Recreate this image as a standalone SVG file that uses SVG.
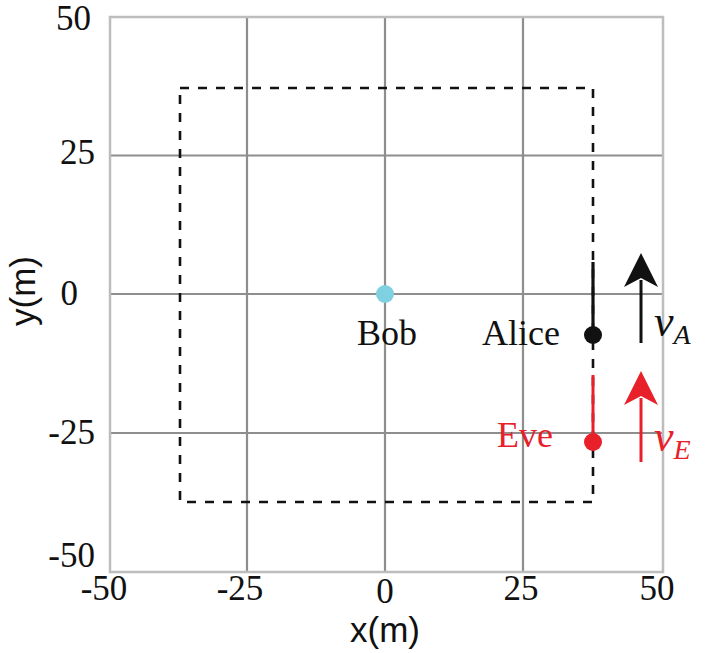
<svg xmlns="http://www.w3.org/2000/svg" width="705" height="653" viewBox="0 0 705 653">
<style>
.grid{stroke:#8e8e8e;stroke-width:2.2;fill:none}
.frame{stroke:#bdbdbd;stroke-width:2.5;fill:none}
.tick{font-family:"Liberation Serif",serif;font-size:35px;fill:#111}
.lab{font-family:"Liberation Serif",serif;font-size:36px}
.ax{font-family:"Liberation Sans",Arial,sans-serif;font-size:35px;fill:#111}
.dash{stroke:#111;stroke-width:2.6;fill:none;stroke-dasharray:9 9}
.math{font-family:"Liberation Serif",serif;font-style:italic}
</style>
<rect width="705" height="653" fill="#fff"/>
<g id="grid">
<line class="grid" x1="247" y1="17" x2="247" y2="572"/>
<line class="grid" x1="385" y1="17" x2="385" y2="572"/>
<line class="grid" x1="523" y1="17" x2="523" y2="572"/>
<line class="grid" x1="110" y1="155.5" x2="663" y2="155.5"/>
<line class="grid" x1="110" y1="294" x2="663" y2="294"/>
<line class="grid" x1="110" y1="433" x2="663" y2="433"/>
<rect class="frame" x="110" y="17" width="553" height="555"/>
</g>
<g id="ticks">
<text class="tick" x="91" y="30" font-size="33" text-anchor="end">50</text>
<text class="tick" x="95" y="164" text-anchor="end">25</text>
<text class="tick" x="78" y="305" text-anchor="end">0</text>
<text class="tick" x="95" y="444" text-anchor="end">-25</text>
<text class="tick" x="95" y="567" text-anchor="end">-50</text>
<text class="tick" x="104" y="600" text-anchor="middle">-50</text>
<text class="tick" x="240" y="600" text-anchor="middle">-25</text>
<text class="tick" x="385" y="603" text-anchor="middle">0</text>
<text class="tick" x="521" y="600" text-anchor="middle">25</text>
<text class="tick" x="657" y="600" text-anchor="middle">50</text>
<text class="ax" x="385" y="642" text-anchor="middle">x(m)</text>
<text class="ax" transform="translate(35 291) rotate(-90)" text-anchor="middle">y(m)</text>
</g>
<g id="region">
<rect class="dash" x="180" y="88" width="413" height="414"/>
</g>
<g id="connectors">
<line x1="593" y1="262" x2="593" y2="335" stroke="#111" stroke-width="3.2"/>
<line x1="593" y1="375" x2="593" y2="442" stroke="#e8202a" stroke-width="3"/>
<line x1="641" y1="343" x2="641" y2="280" stroke="#111" stroke-width="3"/>
<polygon points="641,253 658,287 641,278 624,287" fill="#111"/>
<line x1="641" y1="462" x2="641" y2="398" stroke="#e8202a" stroke-width="3"/>
<polygon points="641,371 658,405 641,396 624,405" fill="#e8202a"/>
</g>
<g id="bob">
<circle cx="385" cy="294" r="9" fill="#7fd0e0"/>
<text class="lab" x="387" y="345" text-anchor="middle" fill="#111">Bob</text>
</g>
<g id="alice">
<circle cx="593" cy="335" r="9" fill="#111"/>
<text class="lab" x="560" y="345" text-anchor="end" fill="#111">Alice</text>
</g>
<g id="eve">
<circle cx="593" cy="442" r="9" fill="#e8202a"/>
<text class="lab" x="553" y="447" text-anchor="end" fill="#e8202a">Eve</text>
</g>
<g id="vA">
<text class="math" x="654" y="336" font-size="44" fill="#111">v<tspan font-size="28" dy="8">A</tspan></text>
</g>
<g id="vE">
<text class="math" x="654" y="451" font-size="44" fill="#e8202a">v<tspan font-size="28" dy="8">E</tspan></text>
</g>
</svg>
